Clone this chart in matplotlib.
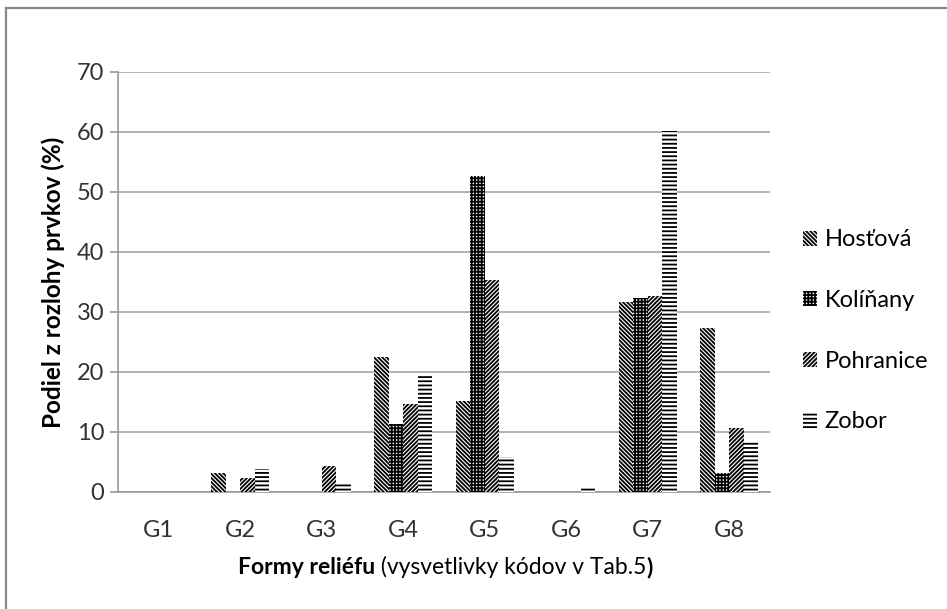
import matplotlib
matplotlib.use("Agg")
import matplotlib.pyplot as plt
import numpy as np
from matplotlib.patches import Patch
from matplotlib.lines import Line2D

categories = ["G1", "G2", "G3", "G4", "G5", "G6", "G7", "G8"]
hostova = [0, 3.2, 0, 22.5, 15.1, 0, 31.7, 27.3]
kolinany = [0, 0, 0, 11.3, 52.6, 0, 32.3, 3.1]
pohranice = [0, 2.4, 4.3, 14.7, 35.4, 0, 32.6, 10.6]
zobor = [0, 3.85, 1.4, 19.4, 5.8, 0.8, 60.2, 8.3]
series_names = ["Hosťová", "Kolíňany", "Pohranice", "Zobor"]
y_ticks = [0, 10, 20, 30, 40, 50, 60, 70]

plt.rcParams["font.family"] = ["Lato", "DejaVu Sans"]
plt.rcParams["hatch.linewidth"] = 1.3

W, H = 947, 609
fig = plt.figure(figsize=(W / 100, H / 100), dpi=100)
ax = fig.add_axes([118 / W, (H - 492) / H, (770 - 118) / W, 420 / H])

x = np.arange(len(categories))
width = 0.178
hatches = ["\\" * 8, "+" * 5, "/" * 8, "-" * 4]
series = [hostova, kolinany, pohranice, zobor]
for i, (vals, hatch) in enumerate(zip(series, hatches)):
    ax.bar(x + (i - 1.5) * width, vals, width, facecolor="white",
           edgecolor="black", linewidth=0, hatch=hatch, zorder=3)

ax.set_xlim(-0.5, len(categories) - 0.5)
ax.set_ylim(0, 70)
ax.set_yticks(y_ticks)
ax.set_xticks(x)
ax.set_xticklabels(categories)
ax.yaxis.grid(True, color="#a6a6a6", linewidth=1.2, zorder=0)
ax.set_axisbelow(True)
for side in ["top", "right"]:
    ax.spines[side].set_visible(False)
for side in ["left", "bottom"]:
    ax.spines[side].set_color("#999999")
    ax.spines[side].set_linewidth(1.2)
ax.tick_params(axis="y", length=6, width=1.2, color="#999999",
               labelsize=17, labelcolor="#333333", pad=4)
ax.tick_params(axis="x", length=0, labelsize=17, labelcolor="#333333", pad=20)

ax.set_ylabel("Podiel z rozlohy prvkov (%)", fontsize=17.5, fontweight="bold",
              labelpad=8)

# x label with mixed weights
y_lab = (H - 567) / H
parts = [("Formy reliéfu", "bold"), (" (vysvetlivky kódov v Tab.5", "normal"), (")", "bold")]
texts = [fig.text(0, y_lab, s, fontsize=16.5, fontweight=w, va="center") for s, w in parts]
fig.canvas.draw()
r = fig.canvas.get_renderer()
widths = [t.get_window_extent(r).width for t in texts]
x0 = 445 - sum(widths) / 2
for t, wd in zip(texts, widths):
    t.set_x(x0 / W)
    x0 += wd

handles = [Patch(facecolor="white", edgecolor="black", linewidth=0, hatch=h)
           for h in hatches]
fig.legend(handles, series_names, loc="center left",
           bbox_to_anchor=(782 / W, 1 - 331 / H), frameon=False, fontsize=17,
           handlelength=0.6, handleheight=0.6, handletextpad=0.3,
           labelspacing=1.68)

# outer chart frame (top and left edges visible)
fig.add_artist(Line2D([5.5 / W, 1], [1 - 8 / H, 1 - 8 / H], color="#888888",
                      linewidth=1.6, transform=fig.transFigure))
fig.add_artist(Line2D([5.5 / W, 5.5 / W], [0, 1 - 8 / H], color="#888888",
                      linewidth=1.6, transform=fig.transFigure))

fig.savefig("out.png", dpi=100)
